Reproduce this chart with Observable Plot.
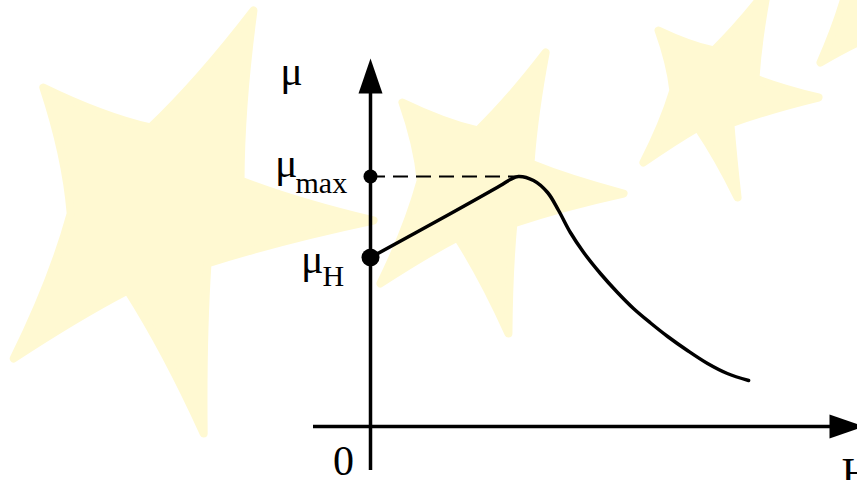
<!DOCTYPE html>
<html>
<head>
<meta charset="utf-8">
<script src="https://cdn.jsdelivr.net/npm/d3@7"></script>
<script src="https://cdn.jsdelivr.net/npm/@observablehq/plot@0.6"></script>
<style>
  html, body { margin: 0; padding: 0; background: #fff; overflow: hidden; }
  #chart svg { display: block; }
  #chart svg text { font-family: "Liberation Serif", "DejaVu Serif", serif !important; }
</style>
</head>
<body>
<div id="chart"></div>
<script>
// Magnetic permeability μ as a function of field strength H (schematic units)
const fieldH       = [0, 2.11, 3.42, 3.68, 3.89, 4.29, 4.66, 4.95, 5.26, 5.61, 6.05, 6.5, 6.92, 7.37, 7.82, 8.34, 8.87, 9.39, 9.95];
const permeability = [3.38, 4.26, 4.82, 4.94, 5.0, 4.92, 4.68, 4.32, 3.88, 3.48, 3.06, 2.68, 2.36, 2.07, 1.8, 1.52, 1.26, 1.06, 0.92];

const muInitial = 3.38;   // μH
const muMax = 5.0;        // μmax
const hAtMax = 3.89;

const xAxisExtent = [-1.5, 13.0];
const yAxisExtent = [-0.88, 7.36];

// Background starfish, outline vertices (tip, notch, tip, notch ...)
const starLeft = [[-3.08, 8.32], [-3.42, 4.92], [0.08, 4.12], [-4.29, 3.26], [-4.39, -0.14],
                  [-6.39, 2.72], [-9.39, 1.36], [-7.89, 4.26], [-8.61, 6.78], [-5.79, 5.98]];
const starMiddle = [[4.61, 7.48], [4.21, 5.26], [6.66, 4.66], [3.76, 4.06], [3.63, 1.86],
                    [2.29, 3.78], [0.26, 2.86], [1.32, 4.92], [0.84, 6.48], [2.82, 5.92]];
const starRight = [[10.45, 8.75], [10.13, 6.96], [11.79, 6.58], [9.47, 6.06], [9.66, 4.58],
                   [8.61, 5.98], [7.18, 5.28], [7.97, 6.72], [7.58, 7.92], [9.03, 7.52]];
const starCorner = [[11.84, 7.28], [12.53, 8.72], [13.95, 9.72], [15.26, 8.32], [13.16, 7.8]];

const starRows = [starLeft, starMiddle, starRight, starCorner]
  .flatMap((pts, i) => pts.map(([x, y]) => ({star: i, x, y})));

const curveRows = fieldH.map((h, i) => ({h, mu: permeability[i]}));

// Closed outline whose edges bow gently toward the shape's centre
function concaveClosed(context) {
  let pts = [];
  return {
    areaStart() {}, areaEnd() {},
    lineStart() { pts = []; },
    point(x, y) { pts.push([+x, +y]); },
    lineEnd() {
      const n = pts.length;
      if (!n) return;
      const cx = d3.mean(pts, p => p[0]), cy = d3.mean(pts, p => p[1]);
      context.moveTo(pts[0][0], pts[0][1]);
      for (let i = 0; i < n; ++i) {
        const a = pts[i], b = pts[(i + 1) % n];
        const mx = (a[0] + b[0]) / 2, my = (a[1] + b[1]) / 2;
        context.quadraticCurveTo(mx + (cx - mx) * 0.08, my + (cy - my) * 0.08, b[0], b[1]);
      }
      context.closePath();
    }
  };
}

// Filled arrowhead with its tip at the anchor point, pointing up
const arrowHead = {
  draw(context) {
    context.moveTo(0, 0);
    context.lineTo(12, 35);
    context.lineTo(-12, 35);
    context.closePath();
  }
};

const serif = "'Liberation Serif', 'DejaVu Serif', serif";
const big = 42, small = 30;
const label = (text, x, y, options) =>
  Plot.text([text], {x: () => x, y: () => y, text: d => d, lineAnchor: "bottom",
                     fontFamily: serif, fill: "#000", ...options});

const chart = Plot.plot({
  width: 857,
  height: 480,
  margin: 0,
  style: {background: "#fff"},
  x: {domain: [0, 10], range: [370, 750], axis: null},
  y: {domain: [0, 5], range: [426, 176], axis: null},
  marks: [
    Plot.line(starRows, {x: "x", y: "y", z: "star", curve: concaveClosed,
                         fill: "#fff9d2", stroke: "#fff9d2", strokeWidth: 8,
                         strokeLinejoin: "round", clip: true}),

    // axes
    Plot.ruleY([0], {x1: xAxisExtent[0], x2: xAxisExtent[1] - 0.5, strokeWidth: 3.5, stroke: "#000"}),
    Plot.ruleX([0], {y1: yAxisExtent[0], y2: yAxisExtent[1] - 0.5, strokeWidth: 3.5, stroke: "#000"}),
    Plot.dot([[0, yAxisExtent[1]]], {x: d => d[0], y: d => d[1], symbol: arrowHead,
                                      fill: "#000", stroke: "none"}),
    Plot.dot([[xAxisExtent[1], 0]], {x: d => d[0], y: d => d[1], symbol: arrowHead, rotate: 90,
                                      fill: "#000", stroke: "none"}),

    // μmax guide
    Plot.ruleY([muMax], {x1: 0, x2: hAtMax, stroke: "#000", strokeWidth: 2, strokeDasharray: "15,8"}),

    // μ(H) curve
    Plot.line(curveRows, {x: "h", y: "mu", curve: "catmull-rom", stroke: "#000", strokeWidth: 3.5}),

    // marked values on the μ axis
    Plot.dot([muMax], {x: () => 0, y: d => d, r: 7, fill: "#000", stroke: "none"}),
    Plot.dot([muInitial], {x: () => 0, y: d => d, r: 9, fill: "#000", stroke: "none"}),

    // labels
    label("μ", 0, yAxisExtent[1], {dx: -79, dy: 26, textAnchor: "middle", fontSize: big}),
    label("μ", 0, muMax, {dx: -73, dy: 0, textAnchor: "end", fontSize: big}),
    label("max", 0, muMax, {dx: -75, dy: 16, textAnchor: "start", fontSize: small}),
    label("μ", 0, muInitial, {dx: -47, dy: 15, textAnchor: "end", fontSize: big}),
    label("H", 0, muInitial, {dx: -48, dy: 28, textAnchor: "start", fontSize: small}),
    label("0", 0, 0, {dx: -27, dy: 48, textAnchor: "middle", fontSize: big}),
    label("H", xAxisExtent[1], 0, {dx: -23, dy: 60, textAnchor: "start", fontSize: big})
  ]
});

document.getElementById("chart").appendChild(chart);
</script>
</body>
</html>
